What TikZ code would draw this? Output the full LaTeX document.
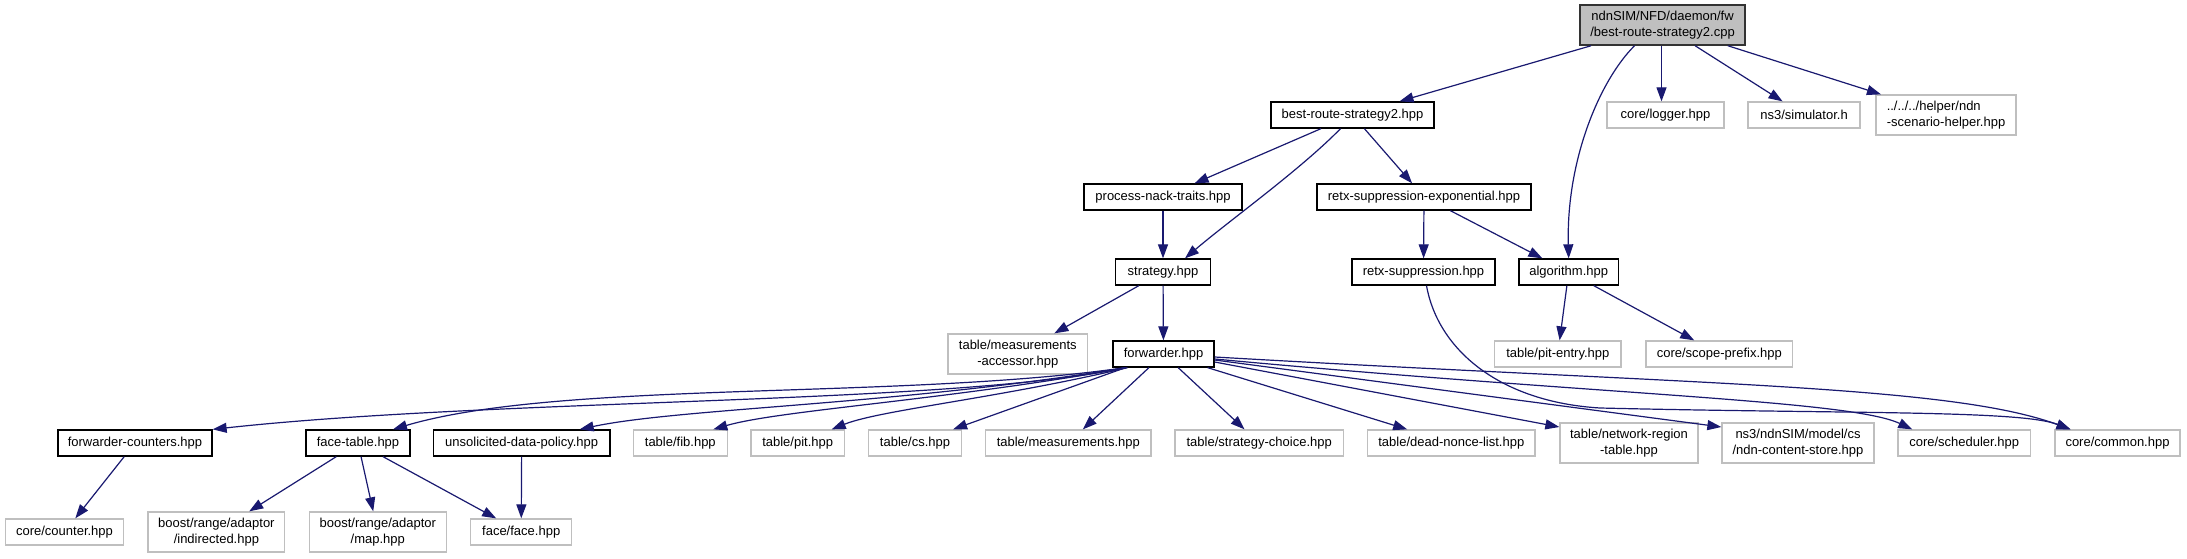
\documentclass[tikz,border=0pt]{standalone}
\usepackage{fontspec}
\setmainfont{Liberation Sans}
\usetikzlibrary{arrows.meta,calc}
\definecolor{edgecol}{HTML}{191970}
\definecolor{graybd}{HTML}{BFBFBF}
\begin{document}
\begin{tikzpicture}[x=1pt,y=-1pt,
  every node/.style={font=\fontsize{13}{15.5}\selectfont, inner sep=0pt, align=center},
  dbox/.style={draw=black, line width=1.3pt, fill=white, minimum height=26pt},
  gbox/.style={draw=graybd, line width=1.3pt, fill=white, minimum height=26pt},
  mainbox/.style={draw=black!80, line width=1.5pt, fill=graybd, minimum height=40pt},
  tall/.style={minimum height=40pt},
  dep/.style={draw=edgecol, line width=1.2pt, -{Triangle[length=14pt,width=10pt]}}]
\fill[white] (0,0) rectangle (2187,559);
\useasboundingbox (0,0) rectangle (2187,559);
% row 0
\node[mainbox, minimum width=165pt] (main) at (1662.5,25) {ndnSIM/NFD/daemon/fw\\/best-route-strategy2.cpp};
% row 1
\node[dbox, minimum width=163pt] (br) at (1352.5,115) {best-route-strategy2.hpp};
\node[gbox, minimum width=117pt] (logger) at (1665.5,115) {core/logger.hpp};
\node[gbox, minimum width=112pt] (sim) at (1804,115) {ns3/simulator.h};
\node[gbox, tall, minimum width=140pt, align=left] (helper) at (1946,115) {../../../helper/ndn\\-scenario-helper.hpp};
% row 2
\node[dbox, minimum width=158pt] (pn) at (1163,197) {process-nack-traits.hpp};
\node[dbox, minimum width=214pt] (rx) at (1424,197) {retx-suppression-exponential.hpp};
% row 3
\node[dbox, minimum width=95pt] (st) at (1163,272) {strategy.hpp};
\node[dbox, minimum width=143pt] (rs) at (1423.5,272) {retx-suppression.hpp};
\node[dbox, minimum width=99.5pt] (alg) at (1568.7,272) {algorithm.hpp};
% row 4
\node[gbox, tall, minimum width=139.5pt] (ma) at (1017.8,354) {table/measurements\\-accessor.hpp};
\node[dbox, minimum width=101pt] (fw) at (1163.5,354) {forwarder.hpp};
\node[gbox, minimum width=126.5pt] (pe) at (1557.8,354) {table/pit-entry.hpp};
\node[gbox, minimum width=146.5pt] (sp) at (1719.3,354) {core/scope-prefix.hpp};
% row 5
\node[dbox, minimum width=154pt] (fc) at (135,443) {forwarder-counters.hpp};
\node[dbox, minimum width=104pt] (ft) at (358,443) {face-table.hpp};
\node[dbox, minimum width=176.7pt] (udp) at (521.7,443) {unsolicited-data-policy.hpp};
\node[gbox, minimum width=93.7pt] (fib) at (680.3,443) {table/fib.hpp};
\node[gbox, minimum width=93.3pt] (pit) at (797.7,443) {table/pit.hpp};
\node[gbox, minimum width=93.4pt] (cs) at (915,443) {table/cs.hpp};
\node[gbox, minimum width=165.3pt] (meas) at (1068.3,443) {table/measurements.hpp};
\node[gbox, minimum width=168.3pt] (sc) at (1259.2,443) {table/strategy-choice.hpp};
\node[gbox, minimum width=167.3pt] (dnl) at (1451.3,443) {table/dead-nonce-list.hpp};
\node[gbox, tall, minimum width=138pt] (nrt) at (1629,443) {table/network-region\\-table.hpp};
\node[gbox, tall, minimum width=152pt] (ncs) at (1798,443) {ns3/ndnSIM/model/cs\\/ndn-content-store.hpp};
\node[gbox, minimum width=132.4pt] (sch) at (1964.2,443) {core/scheduler.hpp};
\node[gbox, minimum width=125pt] (com) at (2117.5,443) {core/common.hpp};
% row 6
\node[gbox, minimum width=118pt] (cnt) at (64.5,532) {core/counter.hpp};
\node[gbox, tall, minimum width=136.8pt] (ind) at (216.4,532) {boost/range/adaptor\\/indirected.hpp};
\node[gbox, tall, minimum width=136.8pt] (map) at (377.8,532) {boost/range/adaptor\\/map.hpp};
\node[gbox, minimum width=101pt] (face) at (521.2,532) {face/face.hpp};
% edges from main
\draw[dep] (main) -- (br);
\draw[dep] ([xshift=-1pt]main.south) -- ([xshift=-4pt]logger.north);
\draw[dep] (main) -- (sim);
\draw[dep] (main) -- (helper);
\draw[dep] ([xshift=-28pt]main.south) .. controls (1600,80) and (1566,160) .. (alg.north);
% best-route
\draw[dep] (br) -- (pn);
\draw[dep] (br) -- (rx);
\draw[dep] ([xshift=-12pt]br.south) .. controls (1300,170) and (1230,220) .. ([xshift=22pt]st.north);
\draw[dep] (pn) -- (st);
\draw[dep] (rx) -- (rs);
\draw[dep] (rx) -- (alg);
\draw[dep] (st) -- (ma);
\draw[dep] (st) -- (fw);
\draw[dep] (alg) -- (pe);
\draw[dep] (alg) -- (sp);
\draw[dep] ([xshift=3pt]rs.south) .. controls (1438,350) and (1500,402) .. (1600,408) .. controls (1850,414) and (2020,410) .. ([xshift=-47pt]com.north);
% forwarder fan
\draw[dep] ([xshift=-38pt]fw.south) .. controls (950,405) and (500,398) .. (fc.north east);
\draw[dep] ([xshift=-38pt]fw.south) .. controls (900,400) and (560,380) .. ([xshift=35pt]ft.north);
\draw[dep] ([xshift=-38pt]fw.south) .. controls (900,405) and (680,408) .. ([xshift=58pt]udp.north);
\draw[dep] ([xshift=-37pt]fw.south) .. controls (950,400) and (780,410) .. ([xshift=33pt]fib.north);
\draw[dep] ([xshift=-36pt]fw.south) .. controls (1000,398) and (880,410) .. ([xshift=34pt]pit.north);
\draw[dep] (fw) -- (cs);
\draw[dep] (fw) -- (meas);
\draw[dep] (fw) -- (sc);
\draw[dep] (fw) -- (dnl);
\draw[dep] ([yshift=-8pt]fw.east) -- ([yshift=16pt]nrt.west);
\draw[dep] ([yshift=-6pt]fw.east) -- ([yshift=16pt]ncs.west);
\draw[dep] ([yshift=-5pt]fw.east) .. controls (1600,395) and (1850,400) .. ([xshift=-52pt]sch.north);
\draw[dep] ([yshift=-3pt]fw.east) .. controls (1700,385) and (1950,385) .. ([xshift=-47pt]com.north);
% lower
\draw[dep] (fc) -- (cnt);
\draw[dep] (ft) -- (ind);
\draw[dep] (ft) -- (map);
\draw[dep] (ft) -- (face);
\draw[dep] (udp) -- (face);
\end{tikzpicture}
\end{document}
